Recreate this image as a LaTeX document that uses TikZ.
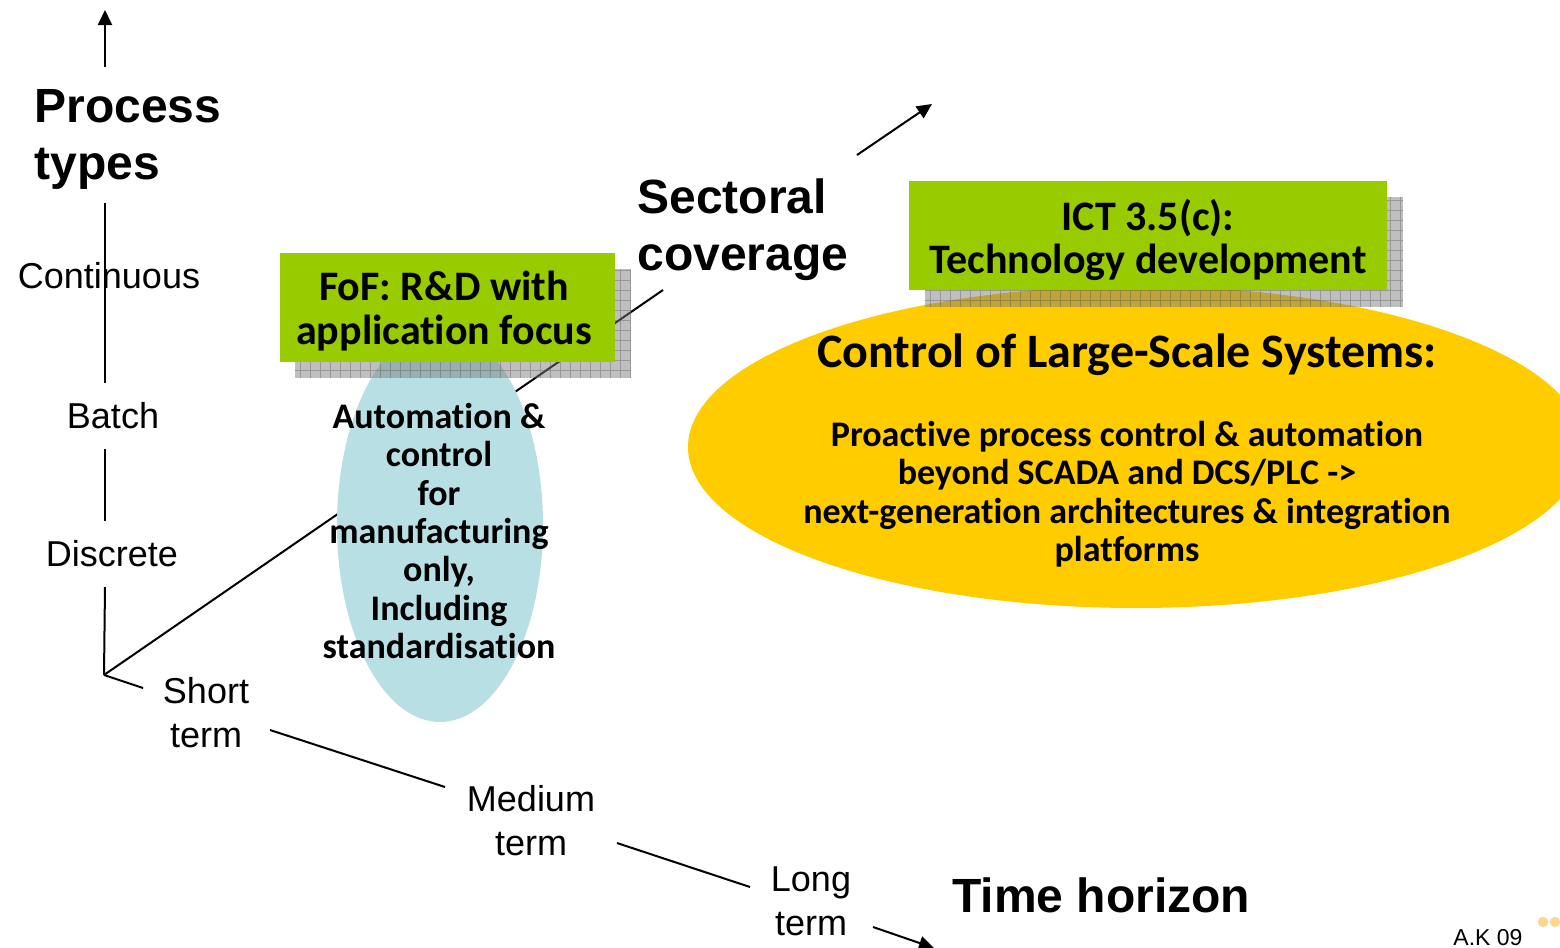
\documentclass[tikz,border=0pt]{standalone}
\usepackage{fontspec}
\setmainfont{Liberation Sans}
\newfontfamily\boxfont[Ligatures=NoCommon]{Carlito}
\usetikzlibrary{arrows.meta}

\definecolor{fofgreen}{RGB}{153,204,0}
\definecolor{lsyellow}{RGB}{255,204,0}
\definecolor{mfblue}{RGB}{184,224,228}
\definecolor{dotorange}{RGB}{255,214,140}
\definecolor{shadowgray}{RGB}{122,122,122}

\tikzset{
  axisline/.style={line width=1pt, black},
  axisarrow/.style={axisline, -{Triangle[length=7.5pt,width=7pt]}},
  lbl/.style={font=\fontsize{18pt}{22pt}\selectfont, align=center, inner sep=0pt},
  bigbold/.style={font=\bfseries\fontsize{24pt}{28.5pt}\selectfont, align=left, inner sep=0pt},
  greenbox/.style={fill=fofgreen, draw=none, inner sep=0pt, anchor=north west},
  boxtext/.style={font=\boxfont\bfseries\fontsize{21pt}{21.75pt}\selectfont, align=center, inner sep=0pt},
  bodytext/.style={font=\boxfont\bfseries\fontsize{18pt}{19.2pt}\selectfont, align=center, inner sep=0pt},
  titletext/.style={font=\boxfont\bfseries\fontsize{24pt}{26pt}\selectfont, inner sep=0pt},
}

% translucent grid-textured drop shadow: corners (x1,y1) and (x2,y2)
\newcommand\gridshadow[4]{%
  \fill[shadowgray, opacity=0.48] (#1,#2) rectangle (#3,#4);
  \begin{scope}
    \clip (#1,#2) rectangle (#3,#4);
    \draw[black!70, opacity=0.35, line width=0.5pt, step=5pt] (#1,#2) grid (#3,#4);
  \end{scope}}

\begin{document}
\begin{tikzpicture}[x=0.5pt,y=-0.5pt]
\useasboundingbox (0,0) rectangle (1560,948);

% axis anchor points
\coordinate (O) at (104,675);
\coordinate (ptFoot) at (105,67);
\coordinate (ptTip) at (105,10);
\coordinate (vA1) at (105,203);
\coordinate (vA2) at (105,383);
\coordinate (vB1) at (105,449);
\coordinate (vB2) at (105,521);
\coordinate (vC1) at (105,587);
\coordinate (secEnd) at (663,290);
\coordinate (secFoot) at (857,155);
\coordinate (secTip) at (932,104);
\coordinate (tA) at (143,688);
\coordinate (tB1) at (270,730);
\coordinate (tB2) at (445,787);
\coordinate (tC1) at (617,843);
\coordinate (tC2) at (750,887);
\coordinate (tD1) at (873,927);
\coordinate (tTip) at (934,948);

% sectoral axis runs underneath the coloured shapes
\draw[axisline] (O) -- (secEnd);

% ellipses
\fill[mfblue] (440,525) ellipse [x radius=51.5pt, y radius=98.5pt];
\fill[lsyellow] (1136,447) ellipse [x radius=224pt, y radius=80.5pt];

% drop shadows of the green boxes
\gridshadow{295}{269}{631}{378}
\gridshadow{925}{197}{1403}{307}

% green boxes
\node[greenbox, minimum width=167.5pt, minimum height=54.5pt] (fofBox) at (280,253) {};
\node[greenbox, minimum width=239pt, minimum height=54.5pt] (ictBox) at (909,181) {};
\node[boxtext] (fofText) at (444,311) {FoF: R\&D with\\application focus};
\node[boxtext] (ictText) at (1148,240) {ICT 3.5(c):\\Technology development};

% ellipse texts
\node[titletext, anchor=base] (lssTitle) at (1127,367) {Control of Large-Scale Systems:};
\node[bodytext] (lssBody) at (1127,494) {Proactive process control \& automation\\beyond SCADA and DCS/PLC ->\\next-generation architectures \& integration\\platforms};
\node[bodytext] (mfText) at (439,531) {Automation \&\\control\\for\\manufacturing\\only,\\Including\\standardisation};

% axis titles
\node[bigbold, anchor=north west] (ptypes) at (34,89) {Process\\types};
\node[bigbold, anchor=north west] (sector) at (637,178) {Sectoral\\coverage};
\node[bigbold, anchor=base west] (thor) at (952,912) {Time horizon};

% axis tick labels
\node[lbl] (cont) at (109,276) {Continuous};
\node[lbl] (batch) at (113,416) {Batch};
\node[lbl] (disc) at (112,554) {Discrete};
\node[lbl] (short) at (206,713) {Short\\term};
\node[lbl] (medium) at (531,821) {Medium\\term};
\node[lbl] (long) at (811,901) {Long\\term};

% process-type axis
\draw[axisarrow] (ptFoot) -- (ptTip);
\draw[axisline] (vA1) -- (vA2);
\draw[axisline] (vB1) -- (vB2);
\draw[axisline] (vC1) -- (O);

% sectoral arrow
\draw[axisarrow] (secFoot) -- (secTip);

% time axis
\draw[axisline] (O) -- (tA);
\draw[axisline] (tB1) -- (tB2);
\draw[axisline] (tC1) -- (tC2);
\draw[axisarrow] (tD1) -- (tTip);

% footer
\node[anchor=base west, inner sep=0pt, font=\fontsize{11.5pt}{13pt}\selectfont] (footer) at (1453,945) {A.K 09};
\fill[dotorange] (1543,922) circle [radius=2.6pt];
\fill[dotorange] (1555,922) circle [radius=2.6pt];
\end{tikzpicture}
\end{document}
